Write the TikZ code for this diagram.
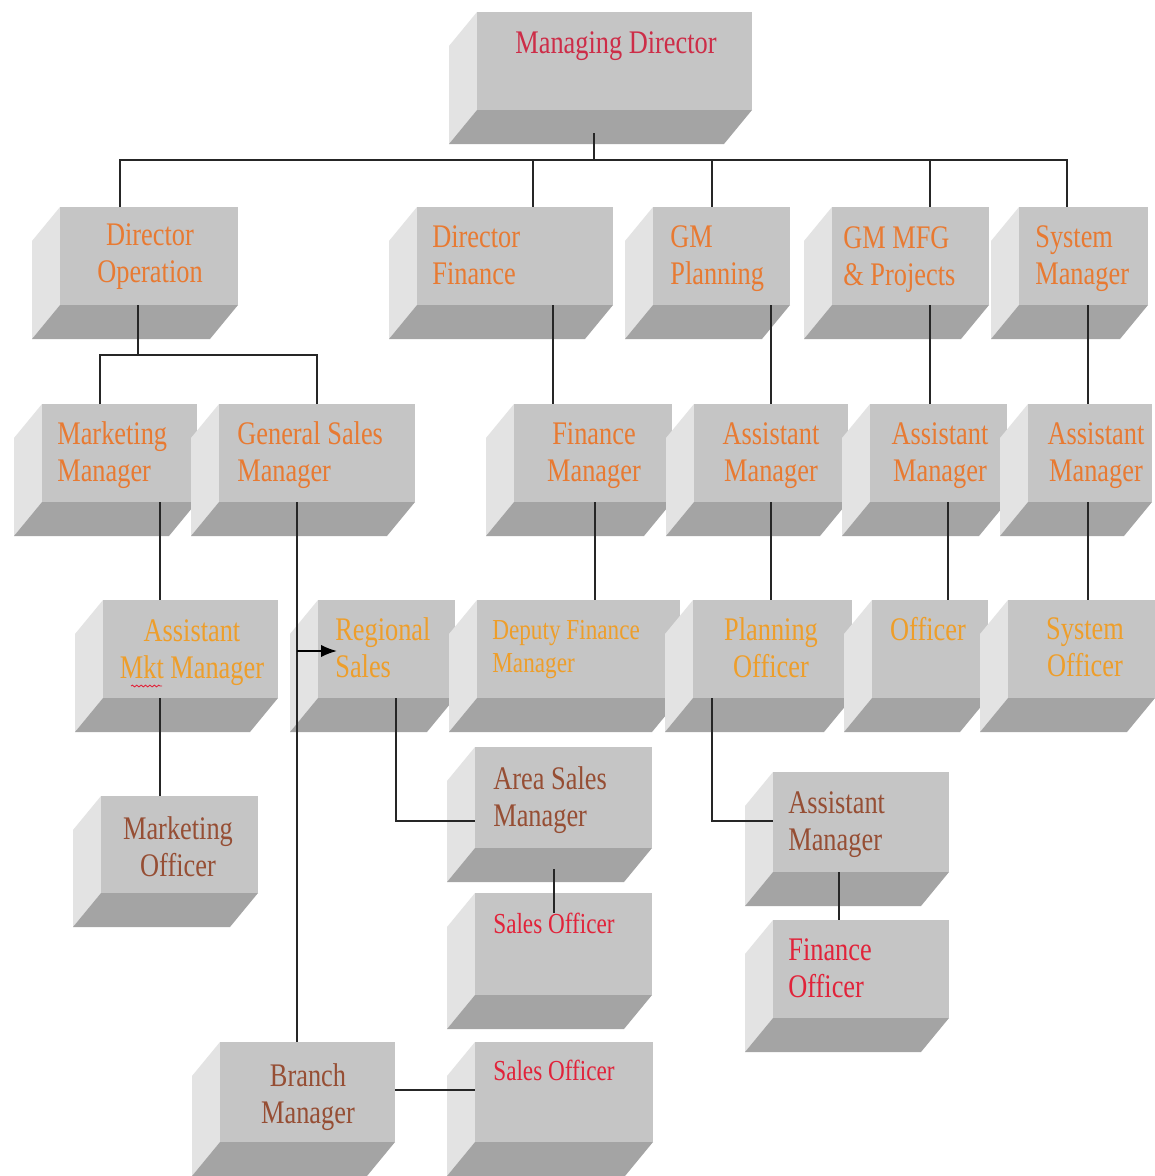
\documentclass[tikz,border=0pt]{standalone}
\usepackage{fontspec}
\usepackage{graphicx}
\setmainfont{Liberation Serif}
\usetikzlibrary{calc,arrows.meta,decorations.pathmorphing}
\definecolor{frontc}{RGB}{197,197,197}
\definecolor{sidec}{RGB}{227,227,227}
\definecolor{botc}{RGB}{164,164,164}
\definecolor{mdred}{RGB}{205,45,72}
\definecolor{orng}{RGB}{232,122,50}
\definecolor{yorng}{RGB}{238,158,42}
\definecolor{brn}{RGB}{150,78,52}
\definecolor{rd}{RGB}{225,35,58}
\newcommand\vs[1]{\scalebox{1}[1.25]{#1}}
\newcommand\orgbox[5]{%
  \fill[sidef] (#2,#3) -- (#2,#5) -- ++(-28,34) -- ({#2-28},{#3+34}) -- cycle;
  \fill[botf] (#2,#5) -- (#4,#5) -- ++(-28,34) -- ({#2-28},{#5+34}) -- cycle;
  \node[frontf, minimum width={(#4-#2)*0.02cm}, minimum height={(#5-#3)*0.02cm}] (#1) at ({(#2+#4)/2},{(#3+#5)/2}) {};
}
\tikzset{
  sidef/.style={fill=sidec},
  botf/.style={fill=botc},
  frontf/.style={fill=frontc, inner sep=0pt, outer sep=0pt, rectangle},
  txt/.style={inner sep=0pt, font=\fontsize{15}{21.5}\selectfont},
  smalltxt/.style={inner sep=0pt, font=\fontsize{13.2}{18.7}\selectfont},
  conn/.style={draw=black!85, line width=1.1pt},
}
\begin{document}
\begin{tikzpicture}[x=0.02cm, y=-0.02cm]
\useasboundingbox (0,0) rectangle (1155,1176);
\fill[white] (0,0) rectangle (1155,1176);

% ---- boxes ----
\orgbox{MD}{477}{12}{752}{110}
\orgbox{DO}{60}{207}{238}{305}
\orgbox{DF}{417}{207}{613}{305}
\orgbox{GMP}{653}{207}{790}{305}
\orgbox{GMM}{832}{207}{989}{305}
\orgbox{SM}{1019}{207}{1148}{305}
\orgbox{MM}{42}{404}{197}{502}
\orgbox{GSM}{219}{404}{415}{502}
\orgbox{FM}{514}{404}{672}{502}
\orgbox{AMa}{694}{404}{848}{502}
\orgbox{AMb}{870}{404}{1007}{502}
\orgbox{AMc}{1028}{404}{1152}{502}
\orgbox{AMM}{103}{600}{278}{698}
\orgbox{RS}{318}{600}{455}{698}
\orgbox{DFM}{477}{600}{680}{698}
\orgbox{PO}{693}{600}{852}{698}
\orgbox{OF}{872}{600}{988}{698}
\orgbox{SO}{1008}{600}{1155}{698}
\orgbox{MO}{101}{796}{258}{893}
\orgbox{ASM}{475}{747}{652}{848}
\orgbox{SOa}{475}{893}{652}{995}
\orgbox{AMd}{773}{772}{949}{872}
\orgbox{FO}{773}{920}{949}{1018}
\orgbox{BM}{220}{1042}{395}{1142}
\orgbox{SOb}{475}{1042}{653}{1142}

% ---- junction coordinates ----
\coordinate (busL) at (120,160);
\coordinate (busM) at (594,160);
\coordinate (busR) at (1067,160);
\coordinate (bDF) at (533,160);
\coordinate (bGMP) at (712,160);
\coordinate (bGMM) at (930,160);
\coordinate (doBus) at (138,355);
\coordinate (doL) at (100,355);
\coordinate (doR) at (317,355);
\coordinate (x553) at (553,0);
\coordinate (x771) at (771,0);
\coordinate (x930) at (930,0);
\coordinate (x1088) at (1088,0);
\coordinate (x595) at (595,0);
\coordinate (x948) at (948,0);
\coordinate (x160) at (160,0);
\coordinate (x297) at (297,0);
\coordinate (x554) at (554,0);
\coordinate (x839) at (839,0);
\coordinate (arrS) at (297,651);
\coordinate (rsC) at (396,821);
\coordinate (poC) at (712,821);
\coordinate (bmY) at (0,1090);

% ---- connectors ----
\draw[conn] ($(MD.south -| busM)+(0,23)$) -- (busM);
\draw[conn] (DO.north -| busL) -- (busL) -- (busR) -- (SM.north -| busR);
\draw[conn] (bDF) -- (DF.north -| bDF);
\draw[conn] (bGMP) -- (GMP.north -| bGMP);
\draw[conn] (bGMM) -- (GMM.north -| bGMM);

\draw[conn] (DO.south -| doBus) -- (doBus);
\draw[conn] (MM.north -| doL) -- (doL) -- (doR) -- (GSM.north -| doR);
\draw[conn] (DF.south -| x553) -- (FM.north -| x553);
\draw[conn] (GMP.south -| x771) -- (AMa.north -| x771);
\draw[conn] (GMM.south -| x930) -- (AMb.north -| x930);
\draw[conn] (SM.south -| x1088) -- (AMc.north -| x1088);

\draw[conn] (MM.south -| x160) -- (AMM.north -| x160);
\draw[conn] (GSM.south -| x297) -- (BM.north -| x297);
\draw[conn, draw=black, -{Latex[length=0.32cm,width=0.25cm]}] (arrS) -- ($(RS.west |- arrS)+(19,0)$);
\draw[conn] (FM.south -| x595) -- (DFM.north -| x595);
\draw[conn] (AMa.south -| x771) -- (PO.north -| x771);
\draw[conn] (AMb.south -| x948) -- (OF.north -| x948);
\draw[conn] (AMc.south -| x1088) -- (SO.north -| x1088);

\draw[conn] (AMM.south -| x160) -- (MO.north -| x160);
\draw[conn] (RS.south -| rsC) -- (rsC) -- (ASM.west |- rsC);
\draw[conn] (PO.south -| poC) -- (poC) -- (AMd.west |- poC);
\draw[conn] ($(ASM.south -| x554)+(0,21)$) -- ($(SOa.north -| x554)+(0,20)$);
\draw[conn] (AMd.south -| x839) -- (FO.north -| x839);
\draw[conn] (BM.east |- bmY) -- (SOb.west |- bmY);

% ---- texts ----
\node[txt, text=mdred, anchor=north] (tMD) at (616,31) {\vs{Managing Director}};
\node[txt, text=orng, anchor=north, align=center] (tDO) at (150,223) {\vs{Director}\\\vs{Operation}};
\node[txt, text=orng, anchor=north west, align=left] (tDF) at (432,225) {\vs{Director}\\\vs{Finance}};
\node[txt, text=orng, anchor=north west, align=left] (tGMP) at (670,225) {\vs{GM}\\\vs{Planning}};
\node[txt, text=orng, anchor=north west, align=left] (tGMM) at (843,226) {\vs{GM MFG}\\\vs{\& Projects}};
\node[txt, text=orng, anchor=north west, align=left] (tSM) at (1035,225) {\vs{System}\\\vs{Manager}};
\node[txt, text=orng, anchor=north west, align=left] (tMM) at (57,421) {\vs{Marketing}\\\vs{Manager}};
\node[txt, text=orng, anchor=north west, align=left] (tGSM) at (237,421) {\vs{General Sales}\\\vs{Manager}};
\node[txt, text=orng, anchor=north, align=center] (tFM) at (594,422) {\vs{Finance}\\\vs{Manager}};
\node[txt, text=orng, anchor=north, align=center] (tAMa) at (771,422) {\vs{Assistant}\\\vs{Manager}};
\node[txt, text=orng, anchor=north, align=center] (tAMb) at (940,422) {\vs{Assistant}\\\vs{Manager}};
\node[txt, text=orng, anchor=north, align=center] (tAMc) at (1096,422) {\vs{Assistant}\\\vs{Manager}};
\node[txt, text=yorng, anchor=north, align=center] (tAMM) at (192,619) {\vs{Assistant}\\\vs{Mkt Manager}};
\node[txt, text=yorng, anchor=north west, align=left] (tRS) at (335,617) {\vs{Regional}\\\vs{Sales}};
\node[smalltxt, text=yorng, anchor=north west, align=left] (tDFM) at (492,620) {\vs{Deputy Finance}\\\vs{Manager}};
\node[txt, text=yorng, anchor=north, align=center] (tPO) at (771,617) {\vs{Planning}\\\vs{Officer}};
\node[txt, text=yorng, anchor=north] (tOF) at (928,617) {\vs{Officer}};
\node[txt, text=yorng, anchor=north, align=center] (tSO) at (1085,617) {\vs{System}\\\vs{Officer}};
\node[txt, text=brn, anchor=north, align=center] (tMO) at (178,816) {\vs{Marketing}\\\vs{Officer}};
\node[txt, text=brn, anchor=north west, align=left] (tASM) at (493,766) {\vs{Area Sales}\\\vs{Manager}};
\node[smalltxt, text=rd, anchor=north west] (tSOa) at (493,913) {\vs{Sales Officer}};
\node[txt, text=brn, anchor=north west, align=left] (tAMd) at (788,791) {\vs{Assistant}\\\vs{Manager}};
\node[txt, text=rd, anchor=north west, align=left] (tFO) at (788,938) {\vs{Finance}\\\vs{Officer}};
\node[txt, text=brn, anchor=north, align=center] (tBM) at (308,1063) {\vs{Branch}\\\vs{Manager}};
\node[smalltxt, text=rd, anchor=north west] (tSOb) at (493,1060) {\vs{Sales Officer}};

% spell-check underline under "Mkt"
\draw[rd, line width=0.5pt, decorate, decoration={snake, amplitude=0.5pt, segment length=2.5pt}] (131,686) -- (162,686);
\end{tikzpicture}
\end{document}
